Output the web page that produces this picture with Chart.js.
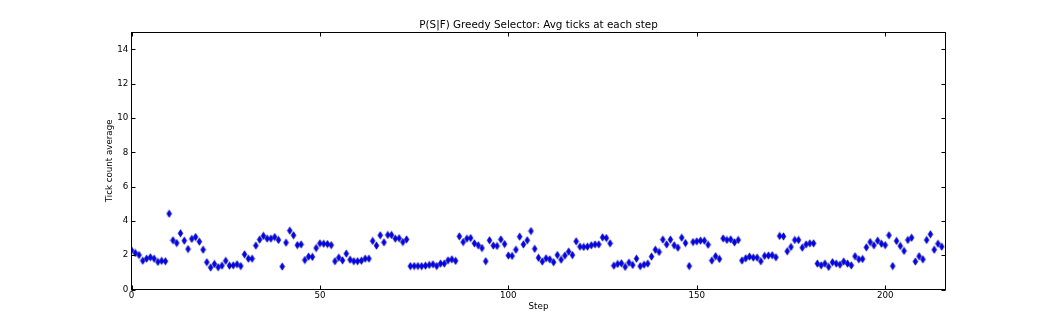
<!DOCTYPE html>
<html>
<head>
<meta charset="utf-8">
<script src="https://cdn.jsdelivr.net/npm/chart.js@4/dist/chart.umd.min.js"></script>
<style>
  html, body { margin: 0; padding: 0; background: #fff; }
  #wrap { width: 1050px; height: 322px; }
</style>
</head>
<body>
<div id="wrap"><canvas id="chart" width="1050" height="322"></canvas></div>
<script>
// Avg tick count per step
const avgTicks = [
  2.29, 2.13, 2.01, 1.68, 1.80, 1.88, 1.80, 1.61, 1.67, 1.65,
  4.42, 2.87, 2.71, 3.28, 2.85, 2.36, 2.95, 3.06, 2.79, 2.32,
  1.59, 1.28, 1.49, 1.30, 1.39, 1.67, 1.39, 1.41, 1.47, 1.37,
  2.05, 1.80, 1.80, 2.56, 2.91, 3.13, 2.97, 2.97, 3.06, 2.89,
  1.34, 2.73, 3.43, 3.16, 2.59, 2.63, 1.72, 1.92, 1.90, 2.42,
  2.69, 2.67, 2.65, 2.59, 1.65, 1.86, 1.70, 2.09, 1.74, 1.65,
  1.65, 1.68, 1.80, 1.80, 2.83, 2.56, 3.16, 2.75, 3.18, 3.18,
  2.97, 2.99, 2.77, 2.92, 1.36, 1.37, 1.37, 1.36, 1.39, 1.43,
  1.47, 1.37, 1.51, 1.51, 1.70, 1.76, 1.67, 3.10, 2.77, 2.97,
  3.00, 2.69, 2.58, 2.42, 1.65, 2.87, 2.56, 2.54, 2.92, 2.65,
  1.98, 1.96, 2.32, 3.08, 2.63, 2.87, 3.41, 2.37, 1.85, 1.63,
  1.82, 1.76, 1.59, 2.01, 1.74, 1.98, 2.21, 2.01, 2.81, 2.50,
  2.48, 2.50, 2.58, 2.63, 2.63, 3.04, 3.00, 2.69, 1.39, 1.49,
  1.53, 1.32, 1.57, 1.43, 1.80, 1.36, 1.45, 1.51, 1.92, 2.32,
  2.19, 2.91, 2.63, 2.91, 2.58, 2.44, 3.02, 2.71, 1.37, 2.77,
  2.81, 2.85, 2.85, 2.61, 1.69, 1.94, 1.78, 2.98, 2.89, 2.92,
  2.75, 2.89, 1.69, 1.82, 1.92, 1.86, 1.86, 1.65, 1.96, 1.98,
  2.00, 1.88, 3.12, 3.10, 2.23, 2.48, 2.89, 2.89, 2.44, 2.63,
  2.69, 2.69, 1.51, 1.41, 1.51, 1.32, 1.59, 1.51, 1.45, 1.63,
  1.51, 1.41, 1.94, 1.76, 1.78, 2.46, 2.77, 2.58, 2.85, 2.67,
  2.59, 3.16, 1.37, 2.83, 2.54, 2.25, 2.89, 3.02, 1.63, 1.94,
  1.76, 2.89, 3.22, 2.32, 2.67, 2.50
];
const steps = avgTicks.map((_, i) => i);

const xTicks = [0, 50, 100, 150, 200];
const yTicks = [0, 2, 4, 6, 8, 10, 12, 14];
const xMax = 216;
const yMax = 15;

const FONT = 'DejaVu Sans';

// matplotlib style thin diamond marker
function thinDiamond() {
  const c = document.createElement('canvas');
  c.width = 7;
  c.height = 9;
  const g = c.getContext('2d');
  g.beginPath();
  g.moveTo(3.5, 0.8);
  g.lineTo(5.9, 4.5);
  g.lineTo(3.5, 8.2);
  g.lineTo(1.1, 4.5);
  g.closePath();
  g.fillStyle = '#0000ff';
  g.fill();
  g.lineWidth = 0.6;
  g.strokeStyle = '#00006e';
  g.stroke();
  return c;
}

// frame on all four sides + inward tick marks
const framePlugin = {
  id: 'frame',
  afterDraw(c) {
    const { ctx, chartArea: a, scales } = c;
    const L = Math.floor(a.left) + 0.5, R = Math.floor(a.right) + 0.5;
    const T = Math.floor(a.top) + 0.5, B = Math.floor(a.bottom) + 0.5;
    ctx.save();
    ctx.strokeStyle = '#000';
    ctx.lineWidth = 1;
    ctx.strokeRect(L, T, R - L, B - T);
    ctx.beginPath();
    xTicks.forEach(v => {
      const px = Math.round(scales.x.getPixelForValue(v)) + 0.5;
      ctx.moveTo(px, B); ctx.lineTo(px, B - 4);
      ctx.moveTo(px, T); ctx.lineTo(px, T + 4);
    });
    yTicks.forEach(v => {
      const py = Math.round(scales.y.getPixelForValue(v)) + 0.5;
      ctx.moveTo(L, py); ctx.lineTo(L + 4, py);
      ctx.moveTo(R, py); ctx.lineTo(R - 4, py);
    });
    ctx.stroke();
    ctx.restore();
  }
};

const chart = new Chart(document.getElementById('chart'), {
  type: 'scatter',
  data: {
    datasets: [{
      data: steps.map((s, i) => ({ x: s, y: avgTicks[i] })),
      pointStyle: thinDiamond(),
      pointRadius: 4,
      showLine: false,
    }],
  },
  options: {
    responsive: false,
    animation: false,
    devicePixelRatio: 1,
    layout: { padding: { left: 0, right: 104.5, top: 0, bottom: 0 } },
    plugins: {
      legend: { display: false },
      tooltip: { enabled: false },
      title: {
        display: true,
        fullSize: false,
        text: 'P(S|F) Greedy Selector: Avg ticks at each step',
        color: '#000',
        font: { family: FONT, size: 10.4, weight: 'normal' },
        padding: { top: 18.8, bottom: 1 },
      },
    },
    scales: {
      x: {
        type: 'linear',
        min: 0,
        max: xMax,
        afterBuildTicks: s => { s.ticks = xTicks.map(v => ({ value: v })); },
        afterFit: s => { s.height = 32.5; },
        grid: { display: false, drawTicks: false },
        border: { display: false },
        ticks: {
          color: '#000',
          padding: 1.3,
          maxRotation: 0,
          autoSkip: false,
          font: { family: FONT, size: 8.7 },
        },
        title: {
          display: true,
          text: 'Step',
          color: '#000',
          font: { family: FONT, size: 8.7 },
          padding: { top: 0, bottom: 10 },
        },
      },
      y: {
        min: 0,
        max: yMax,
        afterBuildTicks: s => { s.ticks = yTicks.map(v => ({ value: v })); },
        afterFit: s => { s.width = 131.5; },
        grid: { display: false, drawTicks: false },
        border: { display: false },
        ticks: {
          color: '#000',
          padding: 3.2,
          autoSkip: false,
          font: { family: FONT, size: 8.7 },
        },
        title: {
          display: true,
          text: 'Tick count average',
          color: '#000',
          font: { family: FONT, size: 8.7 },
          padding: { top: 105, bottom: 0 },
        },
      },
    },
  },
  plugins: [framePlugin],
});
</script>
</body>
</html>
